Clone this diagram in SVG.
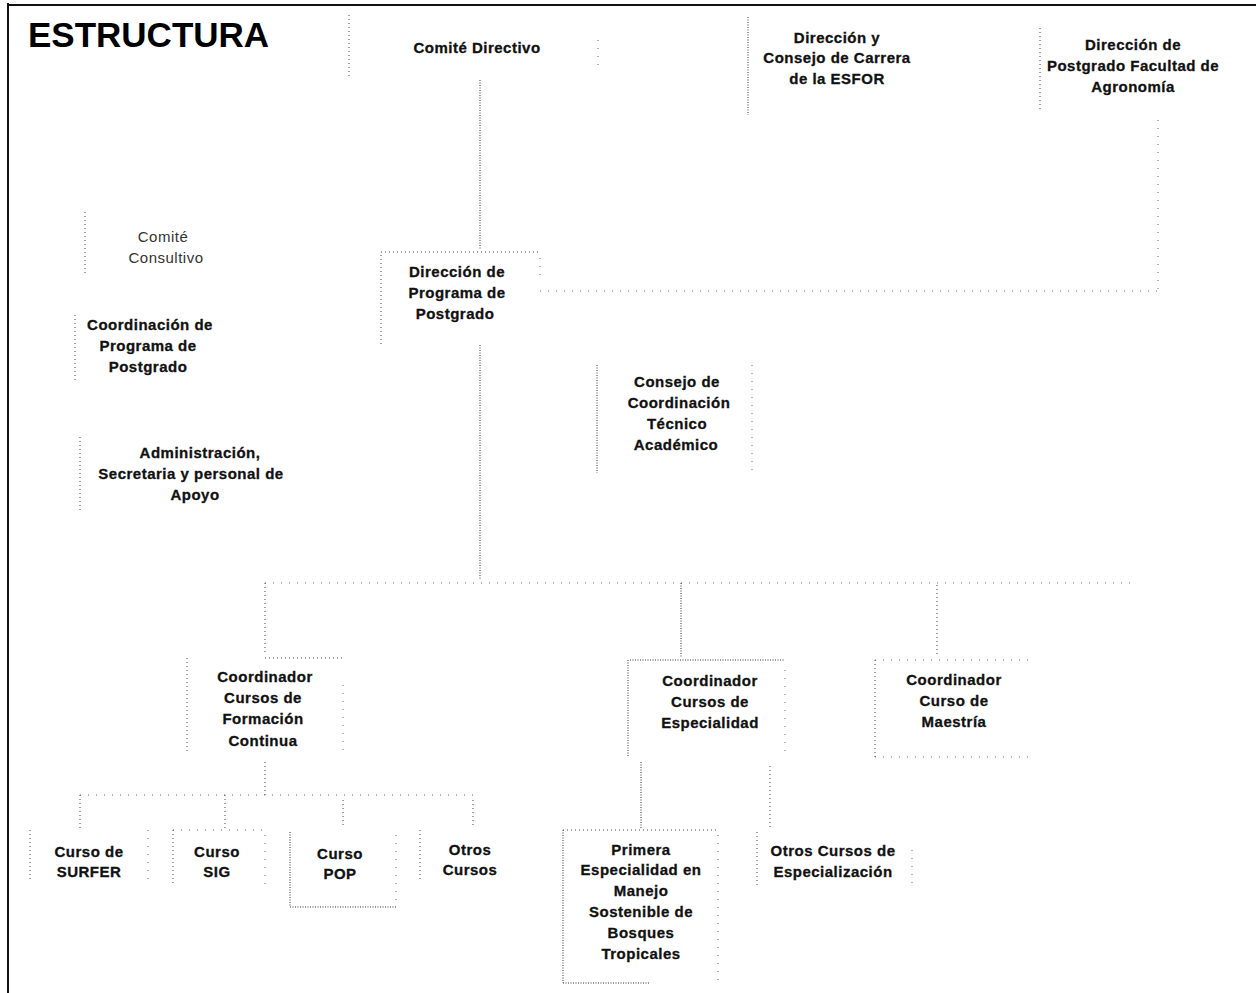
<svg xmlns="http://www.w3.org/2000/svg" width="1256" height="993" viewBox="0 0 1256 993">
<defs>
<style>
.t{font-family:"Liberation Sans",Arial,sans-serif;font-weight:bold;font-size:15px;fill:#111;stroke:#111;stroke-width:0.3;text-anchor:middle;letter-spacing:0.5px}
.r{font-weight:normal;fill:#333;stroke:none}
.d{stroke:#444;stroke-width:1;stroke-dasharray:1 3;fill:none}
.dd{stroke:#333;stroke-width:1;stroke-dasharray:1 1.5;fill:none}
.s{stroke:#666;stroke-width:1;stroke-dasharray:1 7;fill:none}
</style>
</defs>
<rect width="1256" height="993" fill="#fff"/>
<g id="frame">
<line x1="8" y1="3" x2="8" y2="993" stroke="#111" stroke-width="2"/>
<line x1="8" y1="5" x2="1256" y2="5" stroke="#111" stroke-width="2"/>
</g>
<text x="28" y="47" style="font-family:'Liberation Sans',Arial,sans-serif;font-weight:bold;font-size:35px;fill:#000">ESTRUCTURA</text>
<g id="connectors">
<line class="dd" x1="480" y1="80" x2="480" y2="250"/>
<line class="s" x1="1158" y1="120" x2="1158" y2="290"/>
<line class="s" x1="540" y1="291" x2="1158" y2="291"/>
<line class="dd" x1="480" y1="345" x2="480" y2="580"/>
<line class="s" x1="265" y1="583" x2="1130" y2="583"/>
<line class="d" x1="265" y1="583" x2="265" y2="655"/>
<line class="dd" x1="681" y1="583" x2="681" y2="658"/>
<line class="d" x1="937" y1="585" x2="937" y2="655"/>
<line class="d" x1="265" y1="762" x2="265" y2="795"/>
<line class="s" x1="80" y1="795" x2="473" y2="795"/>
<line class="d" x1="80" y1="795" x2="80" y2="828"/>
<line class="d" x1="225" y1="795" x2="225" y2="830"/>
<line class="d" x1="343" y1="800" x2="343" y2="828"/>
<line class="d" x1="473" y1="800" x2="473" y2="828"/>
<line class="dd" x1="641" y1="762" x2="641" y2="828"/>
<line class="d" x1="770" y1="766" x2="770" y2="830"/>
</g>
<g id="comite-directivo">
<line class="d" x1="349" y1="15" x2="349" y2="78"/>
<line class="s" x1="598" y1="40" x2="598" y2="72"/>
<text class="t" x="477" y="53">Comité Directivo</text>
</g>
<g id="direccion-consejo-esfor">
<line class="dd" x1="748" y1="17" x2="748" y2="115"/>
<text class="t" x="837" y="43">Dirección y</text>
<text class="t" x="837" y="63">Consejo de Carrera</text>
<text class="t" x="837" y="84">de la ESFOR</text>
</g>
<g id="direccion-postgrado-agronomia">
<line class="d" x1="1040" y1="28" x2="1040" y2="112"/>
<text class="t" x="1133" y="50">Dirección de</text>
<text class="t" x="1133" y="71">Postgrado Facultad de</text>
<text class="t" x="1133" y="92">Agronomía</text>
</g>
<g id="comite-consultivo">
<line class="d" x1="85" y1="212" x2="85" y2="275"/>
<text class="t r" x="163" y="242">Comité</text>
<text class="t r" x="166" y="263">Consultivo</text>
</g>
<g id="direccion-programa">
<line class="d" x1="381" y1="252" x2="540" y2="252"/>
<line class="d" x1="381" y1="255" x2="381" y2="345"/>
<line class="s" x1="540" y1="258" x2="540" y2="282"/>
<text class="t" x="457" y="277">Dirección de</text>
<text class="t" x="457" y="298">Programa de</text>
<text class="t" x="455" y="319">Postgrado</text>
</g>
<g id="coordinacion-programa">
<line class="d" x1="75" y1="315" x2="75" y2="382"/>
<text class="t" x="150" y="330">Coordinación de</text>
<text class="t" x="148" y="351">Programa de</text>
<text class="t" x="148" y="372">Postgrado</text>
</g>
<g id="administracion">
<line class="d" x1="80" y1="437" x2="80" y2="510"/>
<text class="t" x="200" y="458">Administración,</text>
<text class="t" x="191" y="479">Secretaria y personal de</text>
<text class="t" x="195" y="500">Apoyo</text>
</g>
<g id="consejo-coordinacion">
<line class="dd" x1="597" y1="365" x2="597" y2="473"/>
<line class="s" x1="752" y1="365" x2="752" y2="472"/>
<text class="t" x="677" y="387">Consejo de</text>
<text class="t" x="679" y="408">Coordinación</text>
<text class="t" x="677" y="429">Técnico</text>
<text class="t" x="676" y="450">Académico</text>
</g>
<g id="coordinador-formacion">
<line class="d" x1="265" y1="658" x2="345" y2="658"/>
<line class="d" x1="187" y1="658" x2="187" y2="752"/>
<line class="s" x1="343" y1="685" x2="343" y2="752"/>
<text class="t" x="265" y="682">Coordinador</text>
<text class="t" x="263" y="703">Cursos de</text>
<text class="t" x="263" y="724">Formación</text>
<text class="t" x="263" y="746">Continua</text>
</g>
<g id="coordinador-especialidad">
<line class="dd" x1="630" y1="660" x2="785" y2="660"/>
<line class="dd" x1="628" y1="660" x2="628" y2="757"/>
<line class="s" x1="785" y1="670" x2="785" y2="757"/>
<text class="t" x="710" y="686">Coordinador</text>
<text class="t" x="710" y="707">Cursos de</text>
<text class="t" x="710" y="728">Especialidad</text>
</g>
<g id="coordinador-maestria">
<line class="s" x1="875" y1="660" x2="1030" y2="660"/>
<line class="d" x1="875" y1="660" x2="875" y2="757"/>
<line class="s" x1="875" y1="757" x2="1030" y2="757"/>
<text class="t" x="954" y="685">Coordinador</text>
<text class="t" x="954" y="706">Curso de</text>
<text class="t" x="954" y="727">Maestría</text>
</g>
<g id="curso-surfer">
<line class="d" x1="30" y1="830" x2="30" y2="880"/>
<line class="s" x1="148" y1="830" x2="148" y2="880"/>
<text class="t" x="89" y="857">Curso de</text>
<text class="t" x="89" y="877">SURFER</text>
</g>
<g id="curso-sig">
<line class="s" x1="173" y1="830" x2="265" y2="830"/>
<line class="d" x1="173" y1="830" x2="173" y2="885"/>
<line class="s" x1="265" y1="835" x2="265" y2="885"/>
<text class="t" x="217" y="857">Curso</text>
<text class="t" x="217" y="877">SIG</text>
</g>
<g id="curso-pop">
<line class="dd" x1="290" y1="832" x2="290" y2="907"/>
<line class="dd" x1="290" y1="907" x2="396" y2="907"/>
<line class="s" x1="396" y1="835" x2="396" y2="900"/>
<text class="t" x="340" y="859">Curso</text>
<text class="t" x="340" y="879">POP</text>
</g>
<g id="otros-cursos">
<line class="d" x1="420" y1="830" x2="420" y2="880"/>
<text class="t" x="470" y="855">Otros</text>
<text class="t" x="470" y="875">Cursos</text>
</g>
<g id="primera-especialidad">
<line class="d" x1="563" y1="830" x2="718" y2="830"/>
<line class="dd" x1="563" y1="830" x2="563" y2="983"/>
<line class="dd" x1="563" y1="983" x2="650" y2="983"/>
<line class="s" x1="718" y1="835" x2="718" y2="983"/>
<text class="t" x="641" y="855">Primera</text>
<text class="t" x="641" y="875">Especialidad en</text>
<text class="t" x="641" y="896">Manejo</text>
<text class="t" x="641" y="917">Sostenible de</text>
<text class="t" x="641" y="938">Bosques</text>
<text class="t" x="641" y="959">Tropicales</text>
</g>
<g id="otros-especializacion">
<line class="d" x1="757" y1="832" x2="757" y2="887"/>
<line class="s" x1="912" y1="850" x2="912" y2="885"/>
<text class="t" x="833" y="856">Otros Cursos de</text>
<text class="t" x="833" y="877">Especialización</text>
</g>
</svg>
